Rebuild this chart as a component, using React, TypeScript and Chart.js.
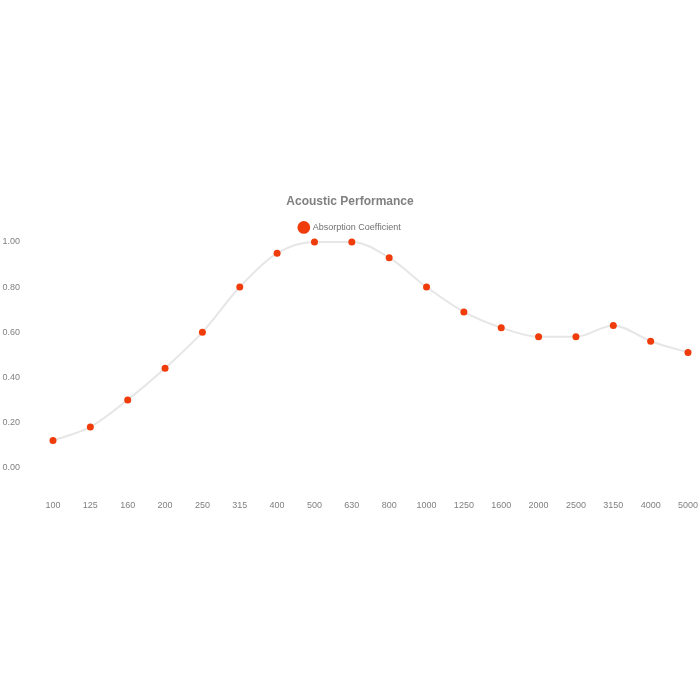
import React, { useEffect, useRef } from "react";
import { Chart, registerables } from "chart.js";

Chart.register(...registerables);

const frequencies = ["100", "125", "160", "200", "250", "315", "400", "500", "630", "800", "1000", "1250", "1600", "2000", "2500", "3150", "4000", "5000"];
const absorption = [0.12, 0.18, 0.30, 0.44, 0.60, 0.80, 0.95, 1.00, 1.00, 0.93, 0.80, 0.69, 0.62, 0.58, 0.58, 0.63, 0.56, 0.51];
const yTicks = [0, 0.2, 0.4, 0.6, 0.8, 1.0];

export default function App() {
  const ref = useRef<HTMLCanvasElement | null>(null);
  useEffect(() => {
    document.body.style.margin = "0";
    const font = "'Helvetica Neue', Helvetica, Arial, 'Liberation Sans', sans-serif";
    const chart = new Chart(ref.current!, {
      type: "line",
      data: {
        labels: frequencies,
        datasets: [
          {
            label: "Absorption Coefficient",
            data: absorption,
            borderColor: "#e6e6e6",
            borderWidth: 2,
            backgroundColor: "rgb(240,60,10)",
            pointBackgroundColor: "rgb(240,60,10)",
            pointBorderColor: "rgb(240,60,10)",
            pointRadius: 3.5,
            pointBorderWidth: 0,
            cubicInterpolationMode: "monotone",
            clip: false,
          },
        ],
      },
      options: {
        animation: false,
        responsive: false,
        layout: { padding: { top: 194, bottom: 179, left: 0, right: 0 } },
        plugins: {
          title: {
            display: true,
            text: "Acoustic Performance",
            color: "#808080",
            font: { family: font, size: 12, weight: "bold" },
            padding: { top: 0, bottom: 11 },
          },
          legend: {
            labels: {
              usePointStyle: true,
              color: "#707070",
              font: { family: font, size: 9 },
              padding: 3.5,
            },
          },
          tooltip: { enabled: false },
        },
        scales: {
          x: {
            offset: false,
            grid: { display: false, drawTicks: false },
            border: { display: false },
            afterFit: (scale: any) => {
              scale.paddingRight = 12;
            },
            ticks: {
              color: "#808080",
              font: { family: font, size: 9 },
              padding: 10,
              maxRotation: 0,
              autoSkip: false,
            },
          },
          y: {
            min: -0.1,
            max: 1.0,
            afterBuildTicks: (scale: any) => {
              scale.ticks = yTicks.map((v) => ({ value: v }));
            },
            grid: { display: false, drawTicks: false },
            border: { display: false },
            afterFit: (scale: any) => {
              scale.width = 53;
            },
            ticks: {
              color: "#808080",
              font: { family: font, size: 9 },
              padding: 33,
              callback: (v: any) => Number(v).toFixed(2),
            },
          },
        },
      },
    });
    return () => chart.destroy();
  }, []);
  return <canvas ref={ref} width={700} height={700} style={{ display: "block" }} />;
}
